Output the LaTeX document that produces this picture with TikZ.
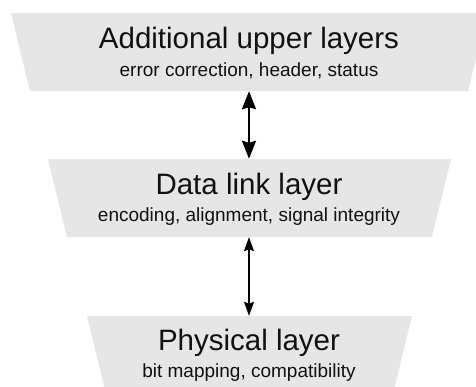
\documentclass[tikz,border=0pt]{standalone}
\usepackage{fontspec}
\setmainfont{Liberation Sans}
\usetikzlibrary{arrows.meta}

\definecolor{layerfill}{HTML}{E6E6E6}
\definecolor{inkcol}{HTML}{111111}

\tikzset{
  layerbox/.style={fill=layerfill, draw=none},
  anchorbox/.style={inner sep=0pt, minimum width=1pt, minimum height=78pt},
  titletext/.style={anchor=base, inner sep=0pt, text=inkcol, font=\fontsize{29.5}{33}\selectfont},
  subtext/.style={anchor=base, inner sep=0pt, text=inkcol, font=\fontsize{19}{22}\selectfont},
  bigarrow/.style={{Stealth[length=18pt,width=14pt,inset=2pt]}-{Stealth[length=18pt,width=14pt,inset=2pt]}, line width=2.4pt, draw=black},
  smallarrow/.style={{Stealth[length=14pt,width=10pt,inset=2pt]}-{Stealth[length=14pt,width=10pt,inset=2pt]}, line width=1.3pt, draw=black}
}

\begin{document}
\begin{tikzpicture}[x=1pt,y=-1pt]
  \clip (0,0) rectangle (476,386);
  \fill[white] (0,0) rectangle (476,386);

  % layer shapes, narrowing downwards
  \fill[layerbox] (11,13) -- (487,13) -- (468,91) -- (30,91) -- cycle;
  \fill[layerbox] (48,159) -- (451,159) -- (432,237) -- (67,237) -- cycle;
  \fill[layerbox] (87,316) -- (412,316) -- (393,394) -- (106,394) -- cycle;

  % anchors spanning each layer's height
  \node[anchorbox] (upper) at (249,52) {};
  \node[anchorbox] (link)  at (249,198) {};
  \node[anchorbox] (phys)  at (249,355) {};

  % labels
  \node[titletext] (upperT) at (249,48) {Additional upper layers};
  \node[subtext]   (upperS) at (249,76) {error correction, header, status};
  \node[titletext] (linkT)  at (249,194) {Data link layer};
  \node[subtext]   (linkS)  at (249,221) {encoding, alignment, signal integrity};
  \node[titletext] (physT)  at (249,350) {Physical layer};
  \node[subtext]   (physS)  at (249,377) {bit mapping, compatibility};

  % connections between layers
  \draw[bigarrow] (upper.south) -- (link.north);
  \draw[smallarrow] (link.south) -- (phys.north);
\end{tikzpicture}
\end{document}
